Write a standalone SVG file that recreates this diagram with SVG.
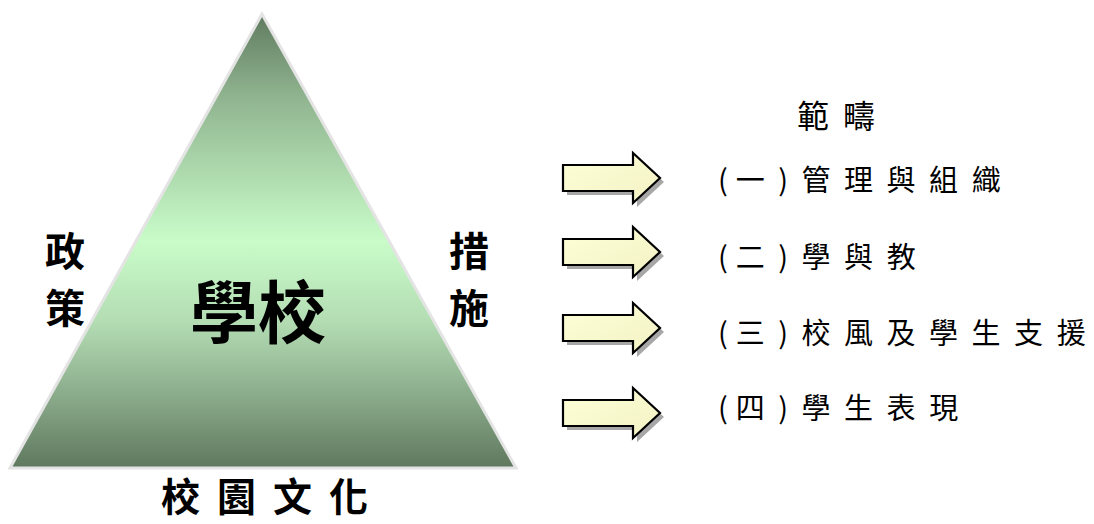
<svg xmlns="http://www.w3.org/2000/svg" width="1094" height="524" viewBox="0 0 1094 524">
<style>
.cjk{font-family:"Noto Sans CJK TC","Noto Sans CJK SC",sans-serif;fill:#000}
.side{font-size:40px;font-weight:bold}
.item{font-size:29px;letter-spacing:13.5px}
.arrow{fill:url(#ag);stroke:#000;stroke-width:2.2;stroke-linejoin:miter}
.shadow{fill:#8a8a8a;opacity:0.75}
</style>
<defs>
<linearGradient id="tg" x1="0" y1="0" x2="0" y2="1">
<stop offset="0" stop-color="#607b60"/>
<stop offset="0.18" stop-color="#8fb38f"/>
<stop offset="0.5" stop-color="#c9fcc9"/>
<stop offset="0.68" stop-color="#b3dcb3"/>
<stop offset="0.85" stop-color="#88a888"/>
<stop offset="1" stop-color="#5f785e"/>
</linearGradient>
<linearGradient id="ag" x1="0" y1="0" x2="1" y2="1">
<stop offset="0" stop-color="#ffffd8"/>
<stop offset="1" stop-color="#f2f2c4"/>
</linearGradient>
<path id="arr" d="M0,-13 L70,-13 L70,-25 L97,0 L70,25 L70,13 L0,13 Z"/>
</defs>
<g id="triangle">
<polygon points="262,14 10,468 516,468" fill="url(#tg)" stroke="#e4e4e4" stroke-width="3"/>
</g>
<g id="label-school"><text class="cjk" x="258" y="338" font-size="68" text-anchor="middle" font-weight="bold">學校</text></g>
<g id="label-policy"><text class="cjk side" x="65" y="266" text-anchor="middle">政</text><text class="cjk side" x="65" y="323" text-anchor="middle">策</text></g>
<g id="label-measure"><text class="cjk side" x="469" y="266" text-anchor="middle">措</text><text class="cjk side" x="469" y="323" text-anchor="middle">施</text></g>
<g id="label-culture"><text class="cjk" x="161" y="511" font-size="39" letter-spacing="17" font-weight="bold">校園文<tspan letter-spacing="0">化</tspan></text></g>
<g id="connectors">
<g transform="translate(563,178)"><use href="#arr" class="shadow" x="4" y="4"/><use href="#arr" class="arrow"/></g>
<g transform="translate(563,252)"><use href="#arr" class="shadow" x="4" y="4"/><use href="#arr" class="arrow"/></g>
<g transform="translate(563,328)"><use href="#arr" class="shadow" x="4" y="4"/><use href="#arr" class="arrow"/></g>
<g transform="translate(563,413)"><use href="#arr" class="shadow" x="4" y="4"/><use href="#arr" class="arrow"/></g>
</g>
<g id="heading"><text class="cjk" x="797" y="128" font-size="32" letter-spacing="14">範<tspan letter-spacing="0">疇</tspan></text></g>
<g id="item1"><text class="cjk item" x="718" y="191"><tspan letter-spacing="8">(</tspan>一)管理與組<tspan letter-spacing="0">織</tspan></text></g>
<g id="item2"><text class="cjk item" x="718" y="268"><tspan letter-spacing="8">(</tspan>二)學與<tspan letter-spacing="0">教</tspan></text></g>
<g id="item3"><text class="cjk item" x="718" y="344"><tspan letter-spacing="8">(</tspan>三)校風及學生支<tspan letter-spacing="0">援</tspan></text></g>
<g id="item4"><text class="cjk item" x="718" y="419"><tspan letter-spacing="8">(</tspan>四)學生表<tspan letter-spacing="0">現</tspan></text></g>
</svg>
